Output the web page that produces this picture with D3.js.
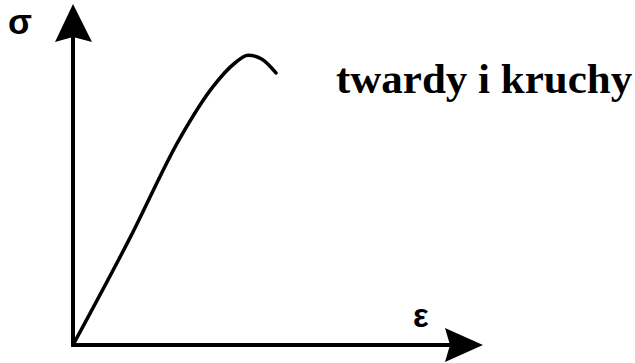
<!DOCTYPE html>
<html>
<head>
<meta charset="utf-8">
<script src="https://cdn.jsdelivr.net/npm/d3@7"></script>
<style>
  body { margin: 0; background: #fff; }
  svg { display: block; }
</style>
</head>
<body>
<div id="chart"></div>
<script>
// stress-strain curve, arbitrary units
var strain = [0, 1.39, 2.61, 3.41, 3.95, 4.27, 4.61, 4.95];
var stress = [0, 3.14, 6.07, 7.57, 8.27, 8.50, 8.38, 7.98];
var axis_labels = ['ε', 'σ'];
var title = 'twardy i kruchy';

var width  = 635;
var height = 363;

var x_scale = d3.scaleLinear().domain([0, 10]).range([73, 483]);
var y_scale = d3.scaleLinear().domain([0, 10]).range([345, 4]);

var svg = d3.select('#chart')
            .append('svg')
            .attr('width', width)
            .attr('height', height);

var x0 = x_scale(0), y0 = y_scale(0);
var x1 = x_scale.range()[1], y1 = y_scale.range()[1];

// axes lines
svg.append('line')
    .attr('x1', x0).attr('y1', y0 + 2)
    .attr('x2', x0).attr('y2', y1 + 30)
    .attr('stroke', '#000').attr('stroke-width', 4);

svg.append('line')
    .attr('x1', x0 - 2).attr('y1', y0)
    .attr('x2', x1 - 30).attr('y2', y0)
    .attr('stroke', '#000').attr('stroke-width', 4);

// arrow heads
svg.append('path')
    .attr('d', 'M' + x0 + ',' + y1 +
               'L' + (x0 + 19) + ',' + (y1 + 38) +
               'L' + x0 + ',' + (y1 + 33) +
               'L' + (x0 - 18) + ',' + (y1 + 38) + 'Z')
    .attr('fill', '#000');

svg.append('path')
    .attr('d', 'M' + x1 + ',' + y0 +
               'L' + (x1 - 38) + ',' + (y0 + 17) +
               'L' + (x1 - 33) + ',' + y0 +
               'L' + (x1 - 38) + ',' + (y0 - 17) + 'Z')
    .attr('fill', '#000');

// the curve
var line = d3.line()
    .x(function(d, i) { return x_scale(strain[i]); })
    .y(function(d, i) { return y_scale(stress[i]); })
    .curve(d3.curveMonotoneX);

svg.append('path')
    .datum(stress)
    .attr('fill', 'none')
    .attr('stroke', '#000')
    .attr('stroke-width', 3.5)
    .attr('stroke-linecap', 'round')
    .attr('d', line);

// labels
svg.append('text')
    .attr('x', 413)
    .attr('y', 327)
    .style('font-family', 'Liberation Sans, Arial, sans-serif')
    .style('font-weight', 'bold')
    .style('font-size', '33px')
    .text(axis_labels[0]);

svg.append('text')
    .attr('x', 8)
    .attr('y', 34)
    .style('font-family', 'Liberation Sans, Arial, sans-serif')
    .style('font-weight', 'bold')
    .style('font-size', '35px')
    .text(axis_labels[1]);

svg.append('text')
    .attr('x', 336)
    .attr('y', 93)
    .style('font-family', 'Liberation Serif, Times New Roman, serif')
    .style('font-weight', 'bold')
    .style('font-size', '43px')
    .text(title);
</script>
</body>
</html>
